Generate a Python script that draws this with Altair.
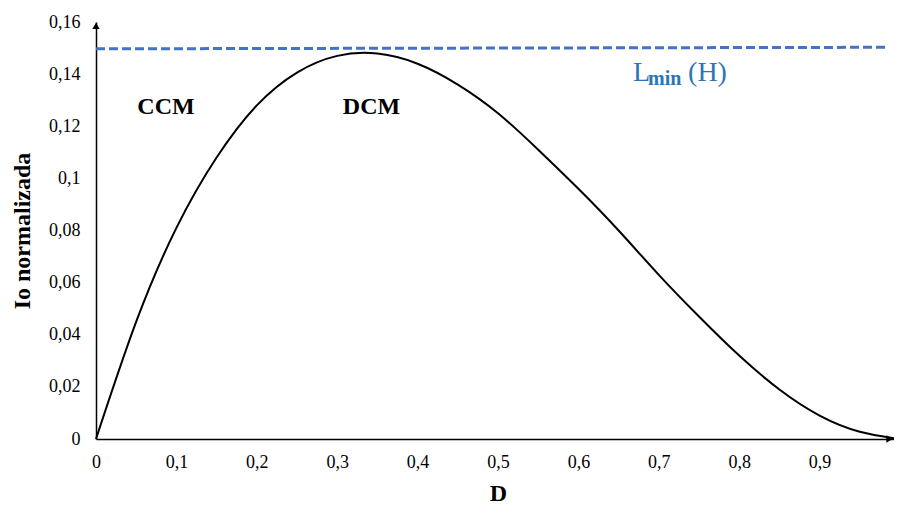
import altair as alt
import pandas as pd

# Curve
duty = [0.0, 0.05, 0.1, 0.15, 0.2, 0.25, 0.3, 0.35, 0.4, 0.45, 0.5,
        0.55, 0.6, 0.65, 0.7, 0.75, 0.8, 0.85, 0.9, 0.95, 1.0]
io_norm = [0.0, 0.045, 0.081, 0.108, 0.128, 0.1406, 0.147, 0.1479, 0.144,
           0.136, 0.125, 0.111, 0.096, 0.080, 0.063, 0.047, 0.032, 0.019, 0.009,
           0.0028, 0.0]

# Lmin dashed line
lmin_d = [0.0, 0.985]
lmin_io = [0.1497, 0.1503]

x_ticks = [0, 0.1, 0.2, 0.3, 0.4, 0.5, 0.6, 0.7, 0.8, 0.9, 1.0]
y_ticks = [0, 0.02, 0.04, 0.06, 0.08, 0.1, 0.12, 0.14, 0.16]

region_labels = ["CCM", "DCM"]
region_d = [0.0871, 0.3427]
region_io = [0.1246, 0.1246]

lmin_label_d = 0.668
lmin_label_io = 0.1373

# Axis arrow heads
arrow_d = [0.0, 0.987]
arrow_io = [0.1585, 0.0]
arrow_shape = ["triangle-up", "triangle-right"]

FONT = "Liberation Serif"
BLUE_LINE = "#4472C4"
BLUE_TEXT = "#2E75B6"

curve_df = pd.DataFrame({"D": duty, "Io": io_norm})
lmin_df = pd.DataFrame({"D": lmin_d, "Io": lmin_io})
reg_df = pd.DataFrame({"D": region_d, "Io": region_io, "t": region_labels})
arrow_df = pd.DataFrame({"D": arrow_d, "Io": arrow_io, "s": arrow_shape})
lab_df = pd.DataFrame({"D": [lmin_label_d], "Io": [lmin_label_io]})

xs = alt.Scale(domain=[0, 1], nice=False)
ys = alt.Scale(domain=[0, 0.16], nice=False)

x_axis = alt.Axis(values=x_ticks, labelExpr="replace(format(datum.value, '.1~f'), '.', ',')",
                  title="D", ticks=False, tickSize=0, grid=False, labelPadding=14,
                  titlePadding=10, labelFont=FONT, labelFontSize=18, labelColor="black",
                  titleFont=FONT, titleFontSize=24, titleFontWeight="bold", titleColor="black",
                  domainColor="black", domainWidth=1.5, labelFlush=False, labelOverlap=False)
y_axis = alt.Axis(values=y_ticks, labelExpr="replace(format(datum.value, '.2~f'), '.', ',')",
                  title="Io normalizada", ticks=False, tickSize=0, grid=False, labelPadding=16,
                  titlePadding=14, labelFont=FONT, labelFontSize=18, labelColor="black",
                  titleFont=FONT, titleFontSize=24, titleFontWeight="bold", titleColor="black",
                  domainColor="black", domainWidth=1.5, labelFlush=False, labelOverlap=False)

curve = alt.Chart(curve_df).mark_line(color="black", strokeWidth=2, interpolate="natural").encode(
    x=alt.X("D:Q", scale=xs, axis=x_axis),
    y=alt.Y("Io:Q", scale=ys, axis=y_axis),
)

lmin = alt.Chart(lmin_df).mark_line(color=BLUE_LINE, strokeWidth=3, strokeDash=[9, 4]).encode(
    x=alt.X("D:Q", scale=xs), y=alt.Y("Io:Q", scale=ys)
)

regions = alt.Chart(reg_df).mark_text(font=FONT, fontSize=24, fontWeight="bold", color="black",
                                      baseline="alphabetic", align="center").encode(
    x=alt.X("D:Q", scale=xs), y=alt.Y("Io:Q", scale=ys), text="t:N"
)

arrows = alt.Chart(arrow_df).mark_point(filled=True, color="black", size=55, opacity=1).encode(
    x=alt.X("D:Q", scale=xs), y=alt.Y("Io:Q", scale=ys),
    shape=alt.Shape("s:N", scale=None)
)

lab_L = alt.Chart(lab_df).mark_text(text="L", font=FONT, fontSize=28, color=BLUE_TEXT,
                                    align="left", baseline="alphabetic").encode(
    x=alt.X("D:Q", scale=xs), y=alt.Y("Io:Q", scale=ys))
lab_min = alt.Chart(lab_df).mark_text(text="min", font=FONT, fontSize=20, fontWeight="bold",
                                      color=BLUE_TEXT, align="left", baseline="alphabetic",
                                      dx=15, dy=4).encode(
    x=alt.X("D:Q", scale=xs), y=alt.Y("Io:Q", scale=ys))
lab_H = alt.Chart(lab_df).mark_text(text="(H)", font=FONT, fontSize=28, color=BLUE_TEXT,
                                    align="left", baseline="alphabetic", dx=55).encode(
    x=alt.X("D:Q", scale=xs), y=alt.Y("Io:Q", scale=ys))

chart = alt.layer(curve, lmin, regions, arrows, lab_L, lab_min, lab_H).properties(
    width=804, height=417,
    background="white",
    autosize=alt.AutoSizeParams(type="none"),
    padding={"left": 88, "top": 14, "right": -6, "bottom": 66},
).configure_view(strokeWidth=0, stroke="transparent").configure_axis(
    grid=False, ticks=False
)

chart.save("out.html", embed_options={"renderer": "svg", "actions": False})
